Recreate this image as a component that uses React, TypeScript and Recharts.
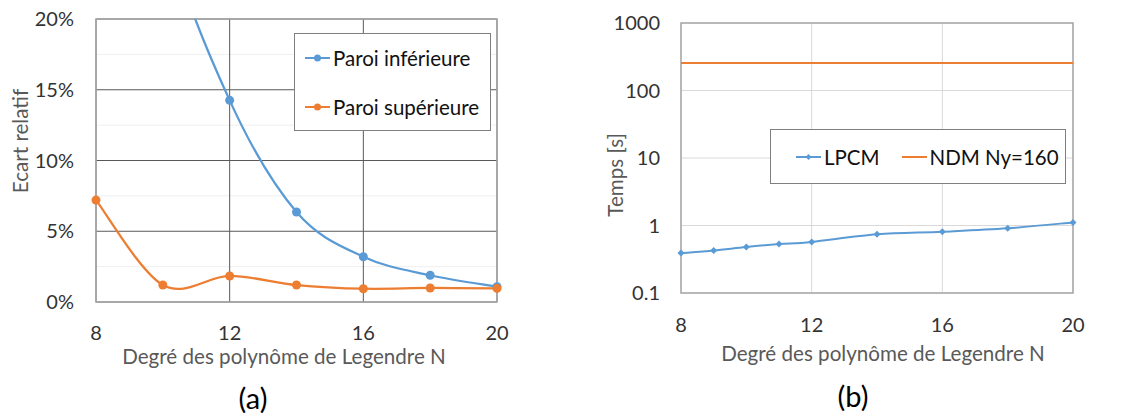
import React from "react"
import { LineChart, Line, XAxis, YAxis, CartesianGrid, Legend, ReferenceArea, Label } from "recharts"

// (a) relative error vs Legendre degree
const degrees = [8, 10, 12, 14, 16, 18, 20]
const paroiInferieure = [0.48, 0.27, 0.1425, 0.0636, 0.032, 0.0189, 0.0108]
const paroiSuperieure = [0.072, 0.012, 0.0184, 0.012, 0.0094, 0.0099, 0.0096]

// (b) computing time
const lpcmDegrees = [8, 9, 10, 11, 12, 14, 16, 18, 20]
const lpcmTimes = [0.39, 0.426, 0.48, 0.53, 0.57, 0.74, 0.81, 0.91, 1.11]
const ndmDegrees = [8, 20]
const ndmTimes = [255, 255]

const xTicks = [8, 12, 16, 20]
const ecartTicks = [0, 0.05, 0.1, 0.15, 0.2]
const ecartMinor = [0.025, 0.075, 0.125, 0.175]
const tempsTicks = [0.1, 1, 10, 100, 1000]

const BLUE = "#5B9BD5"
const ORANGE = "#ED7D31"
const TEXT = "#595959"
const FONT = "Lato, 'Open Sans', sans-serif"

const toRows = (xs: number[], ys: number[]) => xs.map((x, i) => ({ x, y: ys[i] }))

// excel-like smoothed line (catmull-rom as bezier)
const smoothCurve = (context: any) => {
  let pts: number[][] = []
  return {
    areaStart() {},
    areaEnd() {},
    lineStart() {
      pts = []
    },
    point(x: number, y: number) {
      pts.push([+x, +y])
    },
    lineEnd() {
      if (!pts.length) return
      context.moveTo(pts[0][0], pts[0][1])
      for (let i = 0; i < pts.length - 1; i++) {
        const p0 = pts[Math.max(i - 1, 0)]
        const p1 = pts[i]
        const p2 = pts[i + 1]
        const p3 = pts[Math.min(i + 2, pts.length - 1)]
        context.bezierCurveTo(
          p1[0] + (p2[0] - p0[0]) / 6,
          p1[1] + (p2[1] - p0[1]) / 6,
          p2[0] - (p3[0] - p1[0]) / 6,
          p2[1] - (p3[1] - p1[1]) / 6,
          p2[0],
          p2[1]
        )
      }
    },
  }
}

const Diamond = (props: any) => {
  const { cx, cy, key } = props
  if (cx == null || cy == null) return <g key={key} />
  return <path key={key} d={`M${cx},${cy - 3.5}L${cx + 3.5},${cy}L${cx},${cy + 3.5}L${cx - 3.5},${cy}Z`} fill={BLUE} />
}

const LegendA = () => (
  <div style={{ width: 195, height: 96, border: "1px solid #7f7f7f", background: "#fff", fontFamily: FONT, fontSize: 20.5, color: "#111" }}>
    {[
      ["Paroi inférieure", BLUE],
      ["Paroi supérieure", ORANGE],
    ].map(([name, c], i) => (
      <div key={name} style={{ position: "absolute", left: 11, top: 10 + i * 49, display: "flex", alignItems: "center", height: 30 }}>
        <svg width={26} height={12}>
          <line x1={0} y1={6} x2={25} y2={6} stroke={c} strokeWidth={2} />
          <circle cx={12.5} cy={6} r={3.5} fill={c} />
        </svg>
        <span style={{ marginLeft: 2 }}>{name}</span>
      </div>
    ))}
  </div>
)

const LegendB = () => (
  <div style={{ width: 294, height: 53, border: "1px solid #7f7f7f", background: "#fff", fontFamily: FONT, fontSize: 20.5, color: "#111", display: "flex", alignItems: "center" }}>
    <svg width={26} height={12} style={{ marginLeft: 25 }}>
      <line x1={0} y1={6} x2={25} y2={6} stroke={BLUE} strokeWidth={2} />
      <path d="M12.5,3L15.5,6L12.5,9L9.5,6Z" fill={BLUE} />
    </svg>
    <span style={{ marginLeft: 2 }}>LPCM</span>
    <svg width={26} height={12} style={{ marginLeft: 22 }}>
      <line x1={0} y1={6} x2={25} y2={6} stroke={ORANGE} strokeWidth={2} />
    </svg>
    <span style={{ marginLeft: 2 }}>NDM Ny=160</span>
  </div>
)

const tickStyle = { fill: "#333", fontSize: 20, fontFamily: FONT }

export default function App() {
  return (
    <div style={{ position: "absolute", left: 0, top: 0, width: 1136, height: 418, background: "#fff", fontFamily: FONT }}>
      <div style={{ position: "absolute", left: 0, top: 0 }}>
        <LineChart width={560} height={418} margin={{ top: 19, right: 63, bottom: 0, left: 0 }}>
          <CartesianGrid horizontalValues={ecartMinor} vertical={false} stroke="#efefef" />
          <CartesianGrid horizontalValues={ecartTicks} verticalValues={xTicks} stroke="#595959" />
          <ReferenceArea x1={8} x2={20} y1={0} y2={0.2} fill="none" stroke="#a6a6a6" strokeWidth={1.5} />
          <XAxis type="number" dataKey="x" domain={[8, 20]} ticks={xTicks} axisLine={false} tickLine={false} tickSize={0} tickMargin={24} height={116} tick={tickStyle}>
            <Label
              content={() => (
                <text x={284} y={364} textAnchor="middle" fill={TEXT} fontSize={20.6} fontFamily={FONT}>
                  Degré des polynôme de Legendre N
                </text>
              )}
            />
          </XAxis>
          <YAxis type="number" domain={[0, 0.2]} ticks={ecartTicks} allowDataOverflow tickFormatter={(v) => `${Math.round(v * 100)}%`} width={96} axisLine={false} tickLine={false} tickSize={0} tickMargin={22} tick={tickStyle}>
            <Label
              content={() => (
                <text transform="translate(28,141) rotate(-90)" textAnchor="middle" fill={TEXT} fontSize={20.6} fontFamily={FONT}>
                  Ecart relatif
                </text>
              )}
            />
          </YAxis>
          <Legend layout="vertical" align="center" verticalAlign="middle" content={LegendA} wrapperStyle={{ left: 294, top: 33, width: 197, height: 98 }} />
          <Line data={toRows(degrees, paroiInferieure)} dataKey="y" name="Paroi inférieure" type={smoothCurve as any} stroke={BLUE} strokeWidth={2.25} dot={{ r: 4.5, fill: BLUE, stroke: BLUE, strokeWidth: 0 }} isAnimationActive={false} />
          <Line data={toRows(degrees, paroiSuperieure)} dataKey="y" name="Paroi supérieure" type={smoothCurve as any} stroke={ORANGE} strokeWidth={2.25} dot={{ r: 4.5, fill: ORANGE, stroke: ORANGE, strokeWidth: 0 }} isAnimationActive={false} />
        </LineChart>
      </div>

      <div style={{ position: "absolute", left: 570, top: 0 }}>
        <LineChart width={566} height={418} margin={{ top: 23, right: 63, bottom: 0, left: 0 }}>
          <CartesianGrid horizontalValues={tempsTicks} verticalValues={xTicks} stroke="#d9d9d9" />
          <ReferenceArea x1={8} x2={20} y1={0.1} y2={1000} fill="none" stroke="#a6a6a6" strokeWidth={1.5} />
          <XAxis type="number" dataKey="x" domain={[8, 20]} ticks={xTicks} axisLine={false} tickLine={false} tickSize={0} tickMargin={25} height={125} tick={tickStyle}>
            <Label
              content={() => (
                <text x={313} y={361} textAnchor="middle" fill={TEXT} fontSize={20.6} fontFamily={FONT}>
                  Degré des polynôme de Legendre N
                </text>
              )}
            />
          </XAxis>
          <YAxis type="number" scale="log" domain={[0.1, 1000]} ticks={tempsTicks} allowDataOverflow tickFormatter={(v) => String(v)} width={111} axisLine={false} tickLine={false} tickSize={0} tickMargin={21} tick={tickStyle}>
            <Label
              content={() => (
                <text transform="translate(53,175) rotate(-90)" textAnchor="middle" fill={TEXT} fontSize={20.6} fontFamily={FONT}>
                  Temps [s]
                </text>
              )}
            />
          </YAxis>
          <Legend layout="vertical" align="center" verticalAlign="middle" content={LegendB} wrapperStyle={{ left: 200, top: 129, width: 296, height: 55 }} />
          <Line data={toRows(lpcmDegrees, lpcmTimes)} dataKey="y" name="LPCM" type={smoothCurve as any} stroke={BLUE} strokeWidth={2} dot={Diamond} isAnimationActive={false} />
          <Line data={toRows(ndmDegrees, ndmTimes)} dataKey="y" name="NDM Ny=160" type="linear" stroke={ORANGE} strokeWidth={2} dot={false} isAnimationActive={false} />
        </LineChart>
      </div>

      <div style={{ position: "absolute", left: 223, top: 380, width: 60, textAlign: "center", fontSize: 29, lineHeight: "36px", color: "#000" }}>(a)</div>
      <div style={{ position: "absolute", left: 823, top: 378, width: 60, textAlign: "center", fontSize: 29, lineHeight: "36px", color: "#000" }}>(b)</div>
    </div>
  )
}
